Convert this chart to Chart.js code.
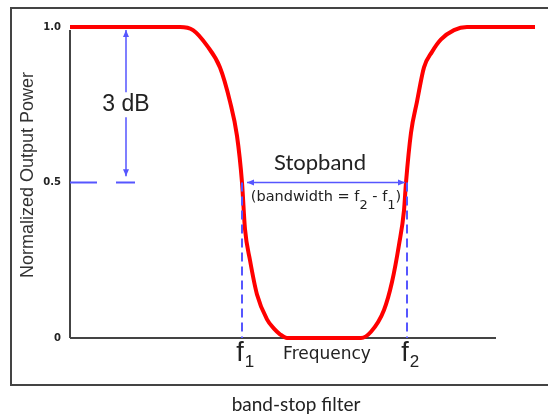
<!DOCTYPE html>
<html>
<head>
<meta charset="utf-8">
<script src="https://cdn.jsdelivr.net/npm/chart.js@4"></script>
<style>
  html, body { margin: 0; padding: 0; background: #fff; }
  #wrap { width: 548px; height: 420px; position: relative; }
</style>
</head>
<body>
<div id="wrap"><canvas id="filterChart"></canvas></div>
<script>
// frequency (arbitrary units) and normalized output power
const freq  = [0, 110, 123, 137, 150, 160, 167, 172, 175, 180, 187, 197, 204, 210, 217,
               291, 301, 314, 322, 329, 334, 336, 341, 347, 354, 362, 371, 384, 397, 465];
const power = [1, 1, 0.99, 0.94, 0.87, 0.76, 0.65, 0.5, 0.35, 0.25, 0.14, 0.06, 0.03, 0.012, 0,
               0, 0.02, 0.09, 0.18, 0.3, 0.41, 0.5, 0.66, 0.76, 0.87, 0.92, 0.96, 0.99, 1, 1];

const yTicks = [1.0, 0.5, 0];
const yTickLabels = ["1.0", "0.5", "0"];
const f1 = 172;
const f2 = 337;
const halfPower = 0.5;
const axisEnd = 426;
const dbArrowX = 56;

const pts = (xs, ys) => xs.map((x, i) => ({ x: x, y: ys[i] }));

const blue = "#5656ff";

const overlay = {
    id: "overlay",
    afterDraw(chart) {
        const c = chart.ctx;
        const xs = chart.scales.x, ys = chart.scales.y;
        const px = v => xs.getPixelForValue(v);
        const py = v => ys.getPixelForValue(v);

        c.save();
        // frame
        c.strokeStyle = "#444";
        c.lineWidth = 2;
        c.strokeRect(11, 8, 560, 377);

        // arrows
        c.strokeStyle = blue;
        c.fillStyle = blue;
        c.lineWidth = 1.5;
        const head = (x, y, dx, dy) => {
            c.beginPath();
            c.moveTo(x, y);
            c.lineTo(x - dx * 7 - dy * 3, y - dy * 7 - dx * 3);
            c.lineTo(x - dx * 7 + dy * 3, y - dy * 7 + dx * 3);
            c.closePath();
            c.fill();
        };
        const ax = px(dbArrowX);
        c.beginPath();
        c.moveTo(ax, py(0.99)); c.lineTo(ax, py(0.79));
        c.moveTo(ax, py(0.71)); c.lineTo(ax, py(0.52));
        c.stroke();
        head(ax, py(0.99), 0, -1);
        head(ax, py(0.52), 0, 1);

        const sy = py(halfPower);
        c.beginPath();
        c.moveTo(px(f1 + 5), sy); c.lineTo(px(f2 - 2), sy);
        c.stroke();
        head(px(f1 + 5), sy, -1, 0);
        head(px(f2 - 2), sy, 1, 0);

        // texts
        c.fillStyle = "#222";
        c.textBaseline = "middle";
        c.textAlign = "center";
        c.font = "23px 'Liberation Sans'";
        c.fillText("3 dB", ax, py(0.75));

        c.font = "22px Lato";
        c.fillText("Stopband", px(250), py(0.562));

        // (bandwidth = f2 - f1)
        const parts = [["(bandwidth = f", 0], ["2", 1], [" - f", 0], ["1", 1], [")", 0]];
        const big = "14.5px 'DejaVu Sans'", sub = "13px 'DejaVu Sans'";
        let w = 0;
        parts.forEach(p => { c.font = p[1] ? sub : big; w += c.measureText(p[0]).width; });
        let x = px(256) - w / 2;
        const by = py(0.452);
        c.textAlign = "left";
        parts.forEach(p => {
            c.font = p[1] ? sub : big;
            c.fillText(p[0], x, by + (p[1] ? 8 : 0));
            x += c.measureText(p[0]).width;
        });

        // f1 / f2 under the axis
        const fLabel = (v, s) => {
            c.font = "27px 'Liberation Sans'";
            const fw = c.measureText("f").width;
            c.textAlign = "left";
            c.fillText("f", px(v) - fw / 2 - 2, py(-0.05));
            c.font = "17px 'Liberation Sans'";
            c.fillText(s, px(v) - fw / 2 - 2 + fw + 1, py(-0.077));
        };
        fLabel(f1, "1");
        fLabel(f2, "2");

        c.textAlign = "center";
        c.font = "17px 'DejaVu Sans'";
        c.fillText("Frequency", px(257), py(-0.054));

        c.font = "19px Lato";
        c.fillText("band-stop filter", px(226), 405);

        // y tick labels
        c.textAlign = "right";
        c.font = "bold 10px 'DejaVu Sans'";
        yTicks.forEach((t, i) => c.fillText(yTickLabels[i], px(-9), py(t)));

        // y title
        c.save();
        c.translate(28, 175);
        c.rotate(-Math.PI / 2);
        c.textAlign = "center";
        c.font = "18px 'Liberation Sans'";
        c.fillStyle = "#333";
        c.fillText("Normalized Output Power", 0, 0);
        c.restore();

        c.restore();
    }
};

const dashed = (data, dash) => ({
    data: data, showLine: true, borderColor: blue, borderWidth: 2,
    borderDash: dash, pointRadius: 0, clip: false
});

new Chart(document.getElementById("filterChart"), {
    type: "scatter",
    data: {
        datasets: [
            dashed([{ x: 0, y: halfPower }, { x: 65, y: halfPower }], [27, 19]),
            dashed([{ x: f1, y: halfPower }, { x: f1, y: 0 }], [9, 5]),
            dashed([{ x: f2, y: halfPower }, { x: f2, y: 0 }], [9, 5]),
            {
                data: pts(freq, power), showLine: true, borderColor: "#ff0000",
                borderWidth: 4, pointRadius: 0, cubicInterpolationMode: "monotone", clip: false
            },
            {
                data: [{ x: 0, y: 0 }, { x: axisEnd, y: 0 }], showLine: true,
                borderColor: "#444", borderWidth: 2, pointRadius: 0, clip: false
            },
            {
                data: [{ x: 0, y: 0.99 }, { x: 0, y: 0 }], showLine: true,
                borderColor: "#444", borderWidth: 2, pointRadius: 0, clip: false
            }
        ]
    },
    options: {
        responsive: true,
        maintainAspectRatio: false,
        animation: false,
        layout: { padding: { left: 70, top: 27, right: 8, bottom: 82 } },
        plugins: { legend: { display: false }, tooltip: { enabled: false } },
        scales: {
            x: { type: "linear", min: 0, max: 470, display: false },
            y: { min: 0, max: 1, display: false }
        }
    },
    plugins: [overlay]
});
</script>
</body>
</html>
